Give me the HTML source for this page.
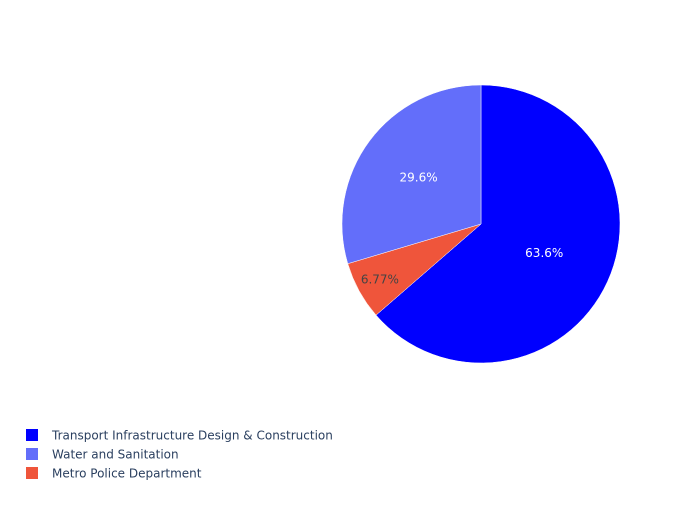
<!DOCTYPE html>
<html><head><meta charset="utf-8"><style>
body{margin:0;background:#fff;}
svg{font-family:"DejaVu Sans","Liberation Sans",sans-serif;}
</style></head><body>
<svg id="chart" width="700" height="500" viewBox="0 0 700 500"></svg>
<script>
const labels=["Transport Infrastructure Design & Construction","Water and Sanitation","Metro Police Department"];
const values=[63.6,29.6,6.77];
const colors=["#0000ff","#636efa","#ef553b"];
const textColors=["#ffffff","#ffffff","#444444"];
const order=[0,2,1];
const NS="http://www.w3.org/2000/svg";
const svg=document.getElementById('chart');
const cx=481,cy=224,r=139;
const total=values.reduce((a,b)=>a+b,0);
function pt(a,rr){return [cx+rr*Math.sin(a),cy-rr*Math.cos(a)];}
let ang=0;
order.forEach(i=>{
  const sweep=values[i]/total*2*Math.PI;
  const a0=ang,a1=ang+sweep;
  const p0=pt(a0,r),p1=pt(a1,r);
  const large=sweep>Math.PI?1:0;
  const path=document.createElementNS(NS,'path');
  path.setAttribute('d',`M${cx},${cy}L${p0[0]},${p0[1]}A${r},${r} 0 ${large} 1 ${p1[0]},${p1[1]}Z`);
  path.setAttribute('fill',colors[i]);
  path.setAttribute('stroke','#fff');
  path.setAttribute('stroke-width','0.5');
  
  
  svg.appendChild(path);
  const mid=(a0+a1)/2;
  const rf=sweep<0.6?0.83:(sweep<Math.PI?0.56:0.5);
  const tp=pt(mid,r*rf);
  const t=document.createElementNS(NS,'text');
  t.setAttribute('x',tp[0]);t.setAttribute('y',tp[1]+4);
  t.setAttribute('text-anchor','middle');
  t.setAttribute('font-size','12');
  t.setAttribute('fill',textColors[i]);
  t.textContent=(values[i]>=10?values[i].toFixed(1):values[i].toFixed(2))+'%';
  
  
  svg.appendChild(t);
  ang=a1;
});
labels.forEach((lab,i)=>{
  const y=435+i*19;
  const g=document.createElementNS(NS,'g');
  
  
  const rect=document.createElementNS(NS,'rect');
  rect.setAttribute('x',26);rect.setAttribute('y',y-6);
  rect.setAttribute('width',12);rect.setAttribute('height',12);
  rect.setAttribute('fill',colors[i]);
  
  
  const t=document.createElementNS(NS,'text');
  t.setAttribute('x',52);t.setAttribute('y',y+4.5);
  t.setAttribute('font-size','12');t.setAttribute('fill','#2a3f5f');
  t.textContent=lab;
  
  
  g.appendChild(rect);g.appendChild(t);svg.appendChild(g);
});
</script>
</body></html>
